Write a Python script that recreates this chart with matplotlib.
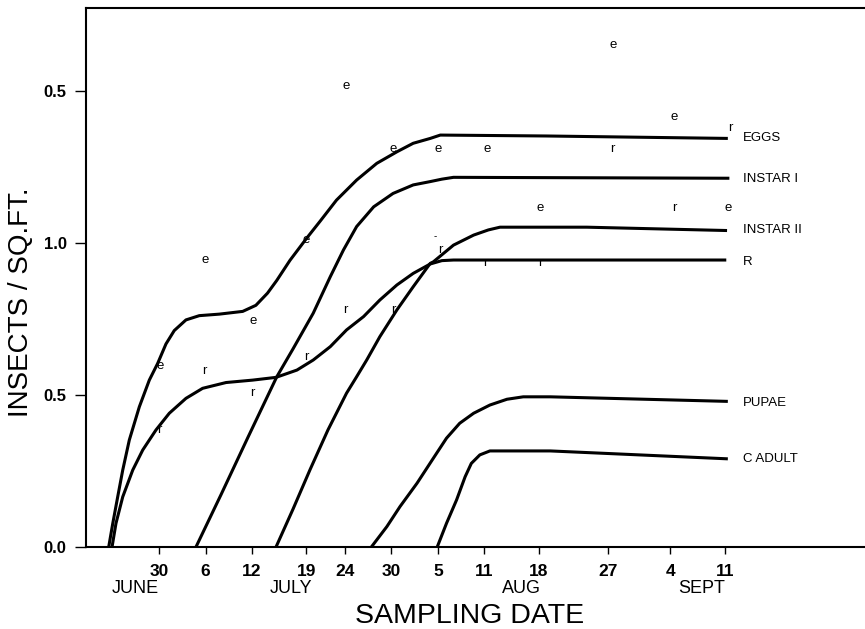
import matplotlib
matplotlib.use("Agg")
import matplotlib.pyplot as plt

plt.rcParams['font.family'] = ['Liberation Sans', 'DejaVu Sans']

# days counted from June 30
tick_days = [0, 6, 12, 19, 24, 30, 36, 42, 49, 58, 66, 73]
tick_labels = ['30', '6', '12', '19', '24', '30', '5', '11', '18', '27', '4', '11']
months = ['JUNE', 'JULY', 'AUG', 'SEPT']
month_days = [-3, 17, 46.8, 70]

y_ticks = [0.0, 0.5, 1.0, 1.5]
y_labels = ['0.0', '0.5', '1.0', '0.5']

eggs_x = [-6.49, -5.97, -5.33, -4.68, -3.83, -2.54, -1.25, -0.17, 0.90, 1.97, 3.48, 5.20, 7.78, 10.8,
          12.5, 14.0, 15.2, 16.9, 19.06, 20.8, 22.9, 25.5, 28.1, 30.7, 32.8, 35.0, 36.3, 50.0, 73.4]
eggs_y = [0.0, 0.077, 0.165, 0.253, 0.352, 0.461, 0.549, 0.604, 0.668, 0.712, 0.747, 0.761, 0.766, 0.775,
          0.795, 0.835, 0.877, 0.943, 1.016, 1.072, 1.141, 1.207, 1.262, 1.30, 1.328, 1.344, 1.355, 1.352, 1.344]

inst1_x = [4.77, 8.0, 11.5, 15.2, 17.3, 19.9, 22.1, 23.8, 25.5, 27.7, 30.2, 32.8, 35.0,
           36.5, 38.0, 50.0, 73.6]
inst1_y = [0.0, 0.172, 0.362, 0.56, 0.652, 0.769, 0.889, 0.977, 1.054, 1.119, 1.163, 1.191, 1.202,
           1.21, 1.216, 1.215, 1.213]

inst2_x = [15.1, 17.3, 19.5, 21.8, 24.2, 25.5, 26.8, 28.5, 30.7, 32.8, 35.0, 35.4, 38.0, 40.6, 42.5,
           44.0, 55.2, 73.3]
inst2_y = [0.0, 0.125, 0.255, 0.385, 0.506, 0.56, 0.615, 0.692, 0.78, 0.856, 0.933, 0.938, 0.993, 1.026, 1.043,
           1.052, 1.052, 1.041]

r_x = [-6.06, -5.55, -4.68, -3.39, -2.1, -0.39, 1.33, 3.48, 5.63, 8.65, 12.1, 15.1, 17.8, 19.9, 22.1,
       24.2, 26.4, 28.5, 30.7, 32.8, 35.0, 36.5, 38.0, 50.0, 73.2]
r_y = [0.0, 0.078, 0.165, 0.253, 0.319, 0.385, 0.44, 0.489, 0.522, 0.541, 0.549, 0.558, 0.582, 0.615, 0.659,
       0.714, 0.758, 0.8125, 0.862, 0.90, 0.931, 0.942, 0.944, 0.944, 0.944]

pupae_x = [27.4, 29.4, 31.1, 33.3, 35.4, 37.1, 38.8, 40.6, 42.7, 44.9, 47.0, 50.5, 73.4]
pupae_y = [0.0, 0.067, 0.133, 0.21, 0.292, 0.358, 0.407, 0.44, 0.467, 0.486, 0.494, 0.494, 0.479]

adult_x = [35.9, 37.1, 38.4, 39.5, 40.3, 41.4, 42.7, 50.5, 73.4]
adult_y = [0.0, 0.078, 0.155, 0.231, 0.275, 0.303, 0.316, 0.316, 0.29]

curve_names = ['EGGS', 'INSTAR I', 'INSTAR II', 'R', 'PUPAE', 'C ADULT']
name_y = [1.344, 1.211, 1.043, 0.937, 0.475, 0.288]

# plotted sample letters
e_x = [24.1, 58.6, 66.5, 30.2, 36.0, 42.3, 49.2, 73.4, 19.0, 5.9, 12.1, 0.1]
e_y = [1.516, 1.651, 1.414, 1.31, 1.31, 1.31, 1.115, 1.115, 1.01, 0.944, 0.743, 0.595]
r_pts_x = [73.7, 58.5, 66.5, 36.3, 42.1, 49.2, 24.1, 30.2, 5.9, 19.0, 12.0, 0.0]
r_pts_y = [1.378, 1.31, 1.115, 0.977, 0.934, 0.934, 0.78, 0.78, 0.579, 0.625, 0.507, 0.385]

fig = plt.figure(figsize=(8.65, 6.29), dpi=100)
ax = fig.add_axes([86 / 865, 82 / 629, 779 / 865, 539 / 629])

for xs, ys in [(eggs_x, eggs_y), (inst1_x, inst1_y), (inst2_x, inst2_y),
               (r_x, r_y), (pupae_x, pupae_y), (adult_x, adult_y)]:
    ax.plot(xs, ys, color='black', lw=2.2, solid_joinstyle='round', solid_capstyle='butt')

for x, y in zip(e_x, e_y):
    ax.text(x, y, 'e', ha='center', va='center', fontsize=9.5)
for x, y in zip(r_pts_x, r_pts_y):
    ax.text(x, y, 'r', ha='center', va='center', fontsize=9.5)
ax.text(35.6, 1.023, '-', ha='center', va='center', fontsize=7)

for name, y in zip(curve_names, name_y):
    ax.text(75.35, y, name, ha='left', va='center', fontsize=9.5)

ax.set_xlim(-9.42, 91.1)
ax.set_ylim(0, 1.773)
ax.set_xticks(tick_days)
ax.set_xticklabels(tick_labels, fontsize=12.5, fontweight='bold')
ax.set_yticks(y_ticks)
ax.set_yticklabels(y_labels, fontsize=12, fontweight='bold')
ax.tick_params(axis='x', direction='out', length=5, width=1, pad=7)
ax.tick_params(axis='y', direction='out', length=8, width=1, pad=6)

for m, d in zip(months, month_days):
    ax.text(d, -0.0761, m, transform=ax.get_xaxis_transform(), ha='center', va='center', fontsize=13)

fig.text(470 / 865, 1 - 616 / 629, 'SAMPLING DATE', ha='center', va='center', fontsize=20.5)
fig.text(21 / 865, 1 - 302 / 629, 'INSECTS / SQ.FT.', ha='center', va='center',
         rotation=90, fontsize=20)

ax.spines['right'].set_visible(False)
for s in ['left', 'bottom', 'top']:
    ax.spines[s].set_linewidth(1.5)

fig.savefig('out.png', dpi=100)
